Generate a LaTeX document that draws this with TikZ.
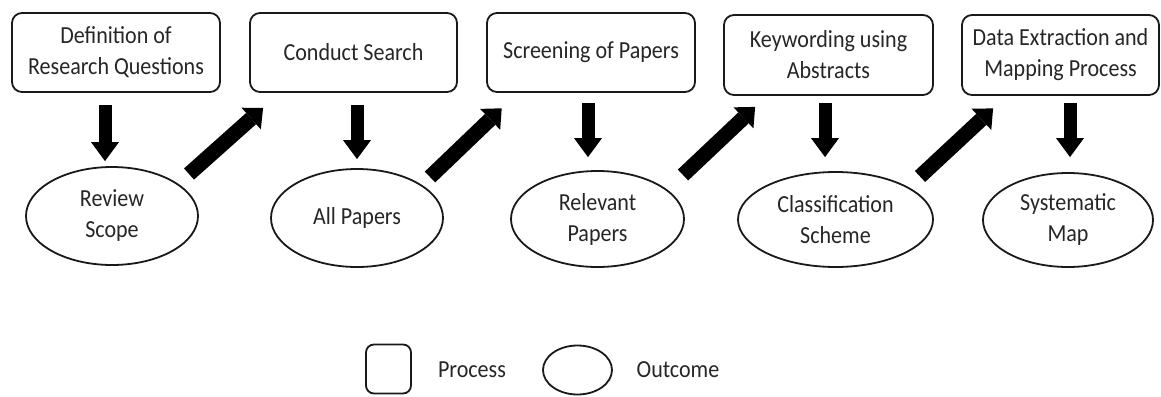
\documentclass[tikz,border=0pt]{standalone}
\usepackage{fontspec}
\setmainfont{Carlito}[FakeStretch=0.9]
\usetikzlibrary{arrows.meta,shapes.geometric}
\begin{document}
\begin{tikzpicture}[x=1pt,y=-1pt,
  txt/.style={font=\fontsize{24.5}{31}\selectfont, text=black!85},
  proc/.style={txt, draw=black!90, line width=1.8pt, rounded corners=10pt, inner sep=0pt, align=center},
  outc/.style={txt, draw=black!90, line width=1.8pt, ellipse, inner sep=0pt, align=center},
  downarr/.style={line width=13pt, -{Triangle[width=28pt,length=19pt,line width=0pt]}},
  diagarr/.style={line width=15pt, -{Triangle[width=29pt,length=16pt,line width=0pt]}}]
\useasboundingbox (0,0) rectangle (1161,396);
% processes
\node[proc, minimum width=208pt, minimum height=79pt] (b1) at (116,52.5) {Definition of\\Research Questions};
\node[proc, minimum width=207pt, minimum height=79pt] (b2) at (353.5,52.5) {Conduct Search};
\node[proc, minimum width=208pt, minimum height=79pt] (b3) at (591,52.5) {Screening of Papers};
\node[proc, minimum width=209pt, minimum height=80pt] (b4) at (828.5,55) {Keywording using\\Abstracts};
\node[proc, minimum width=197pt, minimum height=80pt] (b5) at (1060.5,55) {Data Extraction and\\Mapping Process};
% outcomes
\node[outc, minimum width=172pt, minimum height=98pt] (e1) at (112,216) {Review\\Scope};
\node[outc, minimum width=172pt, minimum height=98pt] (e2) at (357,218) {All Papers};
\node[outc, minimum width=173pt, minimum height=96pt] (e3) at (597.5,219) {Relevant\\Papers};
\node[outc, minimum width=195pt, minimum height=95pt] (e4) at (835.5,219.5) {Classification\\Scheme};
\node[outc, minimum width=170pt, minimum height=94pt] (e5) at (1068,220) {Systematic\\Map};
% down arrows
\draw[downarr] ([shift={(-11,12)}]b1.south) -- ([shift={(-7,-5)}]e1.north);
\draw[downarr] ([shift={(3.5,12)}]b2.south) -- ([shift={(0,-9)}]e2.north);
\draw[downarr] ([shift={(-3,10)}]b3.south) -- ([shift={(-9.5,-13)}]e3.north);
\draw[downarr] ([shift={(-3.5,7)}]b4.south) -- ([shift={(-10.5,-14)}]e4.north);
\draw[downarr] ([shift={(9.5,7)}]b5.south) -- ([shift={(2,-15)}]e5.north);
% diagonal arrows
\draw[diagarr] ([shift={(77,-42)}]e1.center) -- ([shift={(14,15)}]b2.south west);
\draw[diagarr] ([shift={(73,-41)}]e2.center) -- ([shift={(15.6,15.4)}]b3.south west);
\draw[diagarr] ([shift={(85.5,-44)}]e3.center) -- ([shift={(32,11)}]b4.south west);
\draw[diagarr] ([shift={(84.5,-43)}]e4.center) -- ([shift={(32,12.5)}]b5.south west);
% legend
\node[proc, minimum width=45pt, minimum height=49pt, rounded corners=8pt] (lp) at (388.5,369) {};
\node[txt] (lpt) at (472,370) {Process};
\node[outc, minimum width=69pt, minimum height=49pt] (lo) at (577.5,370) {};
\node[txt] (lot) at (678,370) {Outcome};
\end{tikzpicture}
\end{document}
